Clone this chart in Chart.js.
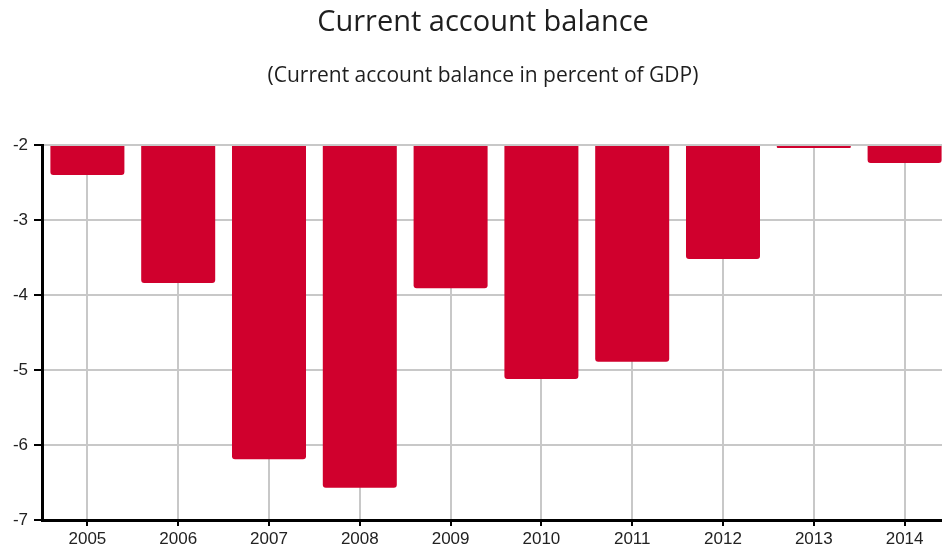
<!DOCTYPE html>
<html>
<head>
<meta charset="utf-8">
<script src="https://cdn.jsdelivr.net/npm/chart.js@4/dist/chart.umd.min.js"></script>
<style>
  html, body { margin: 0; padding: 0; width: 942px; height: 549px; overflow: hidden; background: #fff; }
  #wrap { position: relative; width: 942px; height: 549px; overflow: hidden; }
  canvas { position: absolute; left: 0; top: 0; }
  .t { position: absolute; left: 0; width: 966px; text-align: center; color: #1e1e1e; font-family: "Open Sans", "Noto Sans", sans-serif; font-weight: 500; white-space: nowrap; }
  #title { top: 0px; font-size: 29px; }
  #subtitle { top: 60px; font-size: 21px; }
</style>
</head>
<body>
<div id="wrap">
  <canvas id="c" width="950" height="549"></canvas>
  <div class="t" id="title">Current account balance</div>
  <div class="t" id="subtitle">(Current account balance in percent of GDP)</div>
</div>
<script>
const years = ["2005","2006","2007","2008","2009","2010","2011","2012","2013","2014"];
const balance = [-2.40, -3.84, -6.19, -6.57, -3.91, -5.12, -4.89, -3.52, -2.04, -2.24];
const yTicks = [-2, -3, -4, -5, -6, -7];

new Chart(document.getElementById('c'), {
  type: 'bar',
  data: {
    labels: years,
    datasets: [{
      data: balance,
      base: -2,
      backgroundColor: '#d0002d',
      borderWidth: 0,
      borderRadius: 3,
      barPercentage: 0.815,
      categoryPercentage: 1.0
    }]
  },
  options: {
    responsive: false,
    animation: false,
    devicePixelRatio: 1,
    layout: { padding: { top: 145, right: 0, left: 0, bottom: 0 } },
    plugins: { legend: { display: false }, tooltip: { enabled: false }, title: { display: false } },
    scales: {
      x: {
        offset: true,
        grid: { offset: false, color: '#c8c8c8', lineWidth: 2, tickColor: '#000', tickWidth: 2, tickLength: 6, drawTicks: true },
        border: { color: '#000', width: 3 },
        ticks: { color: '#222', font: { family: 'Liberation Sans, Arial, sans-serif', size: 17 }, padding: 3, maxRotation: 0 },
        afterFit: s => { s.height = 29; }
      },
      y: {
        min: -7,
        max: -2,
        afterBuildTicks: s => { s.ticks = yTicks.map(v => ({ value: v })); },
        grid: { color: '#c8c8c8', lineWidth: 2, tickColor: '#000', tickWidth: 2, tickLength: 8 },
        border: { color: '#000', width: 3 },
        ticks: { color: '#222', font: { family: 'Liberation Sans, Arial, sans-serif', size: 17 }, padding: 6 },
        afterFit: s => { s.width = 42; }
      }
    }
  }
});
</script>
</body>
</html>
